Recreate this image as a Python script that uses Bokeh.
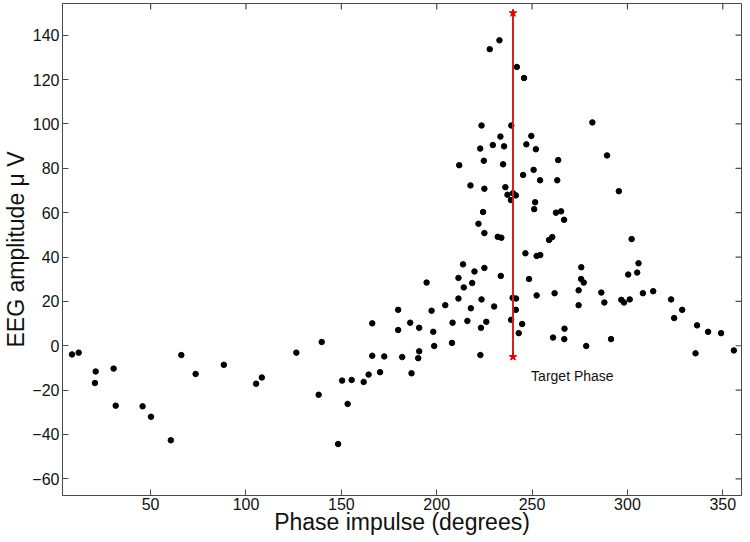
from bokeh.plotting import figure
from bokeh.models import Range1d, FixedTicker
from bokeh.core.properties import value
from bokeh.embed import file_html
from bokeh.resources import INLINE

# ---- data ----
phase = [
    8.8, 12.3, 21.2, 20.8, 30.6, 31.7, 45.8, 50.2, 60.6, 66.1, 73.6, 88.4,
    105.3, 108.3, 126.4, 138.1, 139.7, 148.3, 150.4, 153.3, 155.4, 161.7,
    164.3, 166.2, 166.2, 170.3, 172.5, 179.8, 179.8, 181.9, 186.1, 186.8,
    190.8, 190.8, 190.3, 194.7, 197.3, 198.2, 198.7, 204.5, 208.3, 208.0,
    211.4, 211.4, 214.2, 216.1, 217.9, 218.6, 219.8, 223.5, 223.2, 222.9,
    226.0, 230.1, 233.6, 213.8, 225.0,
    227.8, 232.9, 242.0, 245.8, 223.5, 239.1, 233.4, 249.6, 222.8, 229.4,
    235.3, 247.0, 252.0, 224.7, 234.8, 263.7, 211.8, 250.8, 245.3, 254.2,
    263.2, 217.7, 225.0, 236.0, 237.1, 240.0, 241.5, 238.9, 251.6, 251.1,
    262.5, 265.2, 266.8, 224.3, 221.9, 225.0, 232.0, 233.9, 258.9, 260.6,
    246.5, 252.4, 254.3, 281.6, 289.3, 295.5, 302.2, 305.8, 275.8,
    248.4, 239.8, 241.6, 241.5, 239.0, 244.8, 243.0, 252.4, 261.0, 261.8,
    267.0, 266.9, 274.4, 274.4, 275.7, 277.1, 278.4, 286.3, 287.9, 291.4,
    296.8, 298.2, 300.4, 301.2, 305.1, 308.1, 313.5, 322.9, 324.5, 328.7,
    336.5, 335.7, 342.3, 349.1, 355.8,
]
amplitude = [
    -3.9, -3.1, -11.6, -16.8, -10.3, -27.0, -27.3, -32.0, -42.6, -4.2, -12.7, -8.6,
    -17.1, -14.3, -3.1, -22.1, 1.7, -44.3, -15.7, -26.2, -15.4, -16.3,
    -13.0, 10.1, -4.5, -11.9, -4.8, 16.2, 7.1, -5.1, 10.4, -12.4,
    8.1, -2.5, -5.6, 28.5, 15.8, 6.3, -0.1, 18.3, 10.4, 1.3,
    30.6, 21.3, 26.3, 11.2, 16.9, 28.3, 33.5, 20.9, 8.1, -4.2,
    10.8, 17.7, 31.5, 36.7, 35.1,
    133.7, 137.7, 125.7, 120.7, 99.3, 99.3, 94.3, 94.6, 88.9, 90.5,
    89.9, 90.8, 88.6, 83.4, 81.8, 83.7, 81.4, 79.3, 77.0, 74.6,
    74.6, 72.3, 70.8, 71.5, 68.1, 68.8, 67.8, 65.7, 64.7, 61.6,
    60.0, 60.6, 56.8, 60.3, 55.0, 50.8, 49.1, 48.7, 47.7, 49.0,
    41.7, 40.5, 40.9, 100.7, 85.8, 69.7, 48.1, 37.2, 35.4,
    30.1, 21.6, 21.3, 16.2, 11.7, 9.8, 5.7, 22.7, 3.7, 23.7,
    7.7, 3.0, 25.0, 18.3, 30.1, 28.5, -0.1, 24.0, 19.5, 3.0,
    20.7, 19.5, 32.1, 20.9, 33.0, 23.7, 24.6, 20.9, 12.5, 16.2,
    9.2, -3.4, 6.3, 5.7, -2.1,
]

target_phase = [240]
target_low = [-5]
target_high = [150]
target_label = ["Target Phase"]
label_phase = [249.5]
label_amp = [-13.6]

x_ticks = [50, 100, 150, 200, 250, 300, 350]
y_ticks = [-60, -40, -20, 0, 20, 40, 60, 80, 100, 120, 140]

FONT = "Liberation Sans"
AX = "#4a4a4a"
TICK_PX = 6

W, H = 742, 540
BL, BR, BT, BB = 55, 1, 3, 45

x_range = Range1d(3.8, 359.8)
y_range = Range1d(-67.5, 154.3)

p = figure(
    width=W, height=H,
    x_range=x_range, y_range=y_range,
    output_backend="svg", toolbar_location=None,
    min_border_left=BL, min_border_right=BR, min_border_top=BT, min_border_bottom=BB,
)
p.grid.visible = False
p.outline_line_color = AX
p.background_fill_color = "white"
p.border_fill_color = "white"

for ax, ticks in ((p.xaxis[0], x_ticks), (p.yaxis[0], y_ticks)):
    ax.ticker = FixedTicker(ticks=ticks)
    ax.major_tick_in = TICK_PX
    ax.major_tick_out = 0
    ax.minor_tick_line_color = None
    ax.axis_line_color = AX
    ax.major_tick_line_color = AX
    ax.major_label_text_font = FONT
    ax.major_label_text_font_size = "16px"
    ax.major_label_text_color = "#111111"
    ax.axis_label_text_font = FONT
    ax.axis_label_text_font_size = "23px"
    ax.axis_label_text_font_style = "normal"
    ax.axis_label_text_color = "#111111"

p.xaxis.axis_label = "Phase impulse (degrees)"
p.xaxis.major_label_standoff = 2
p.xaxis.axis_label_standoff = -4
p.yaxis.axis_label = "EEG amplitude \u03bc V"
p.yaxis.major_label_standoff = 3
p.yaxis.axis_label_standoff = 0

# mirrored inward ticks on the top and right edges of the box
frame_h = H - BT - BB
frame_w = W - BL - BR
dy = TICK_PX * (y_range.end - y_range.start) / frame_h
dx = TICK_PX * (x_range.end - x_range.start) / frame_w
p.segment(x0=x_ticks, y0=[y_range.end] * len(x_ticks),
          x1=x_ticks, y1=[y_range.end - dy] * len(x_ticks),
          line_color=AX, line_width=1.2)
p.segment(x0=[x_range.end] * len(y_ticks), y0=y_ticks,
          x1=[x_range.end - dx] * len(y_ticks), y1=y_ticks,
          line_color=AX, line_width=1.2)

p.scatter(phase, amplitude, size=5.5, color="black")

p.segment(x0=target_phase, y0=target_low, x1=target_phase, y1=target_high,
          line_color="#d42020", line_width=2)
p.scatter(target_phase * 2, target_low + target_high, marker="star", size=8,
          color="#e00000")

p.text(x=label_phase, y=label_amp, text=target_label, text_font=value(FONT),
       text_font_size="14px", text_align="left", text_baseline="middle",
       text_color="#111111")

open("out.html", "w").write(file_html(p, INLINE))
